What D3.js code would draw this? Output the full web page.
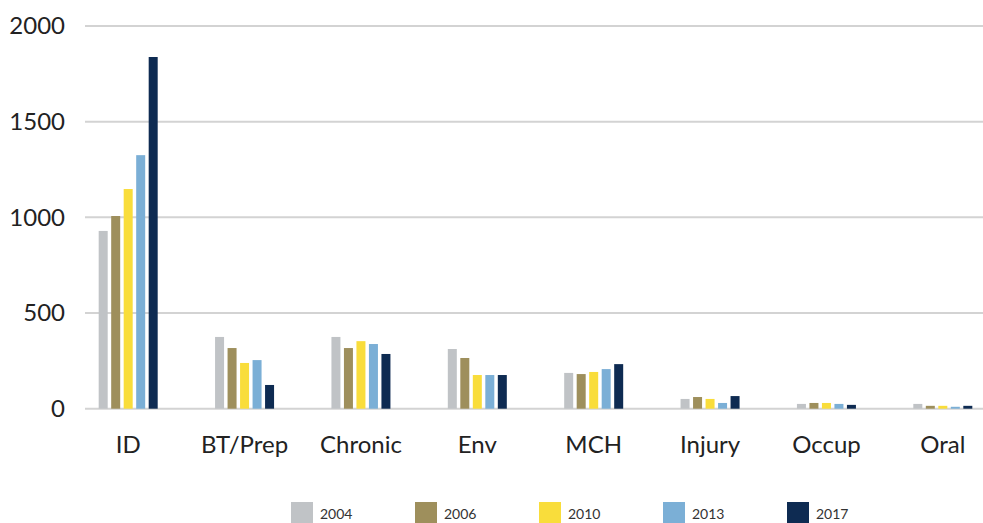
<!DOCTYPE html>
<html>
<head>
<meta charset="utf-8">
<script src="https://cdn.jsdelivr.net/npm/d3@7"></script>
<style>
  body { margin: 0; background: #fff; }
  svg { display: block; font-family: Lato, "Open Sans", sans-serif; }
</style>
</head>
<body>
<svg id="chart" width="983" height="523"></svg>
<script>
const categories = ["ID", "BT/Prep", "Chronic", "Env", "MCH", "Injury", "Occup", "Oral"];
const years = ["2004", "2006", "2010", "2013", "2017"];
const colors = ["#c0c3c6", "#9e8f5c", "#f9dd3b", "#7bafd6", "#0e2b52"];
const yTicks = [0, 500, 1000, 1500, 2000];

// one array per year, in category order
const v2004 = [929, 375, 375, 312, 187, 51, 25, 25];
const v2006 = [1007, 317, 317, 265, 181, 61, 30, 15];
const v2010 = [1148, 239, 353, 176, 192, 51, 30, 15];
const v2013 = [1325, 254, 338, 176, 207, 30, 25, 10];
const v2017 = [1838, 124, 286, 176, 233, 66, 20, 15];
const series = [v2004, v2006, v2010, v2013, v2017];

const svg = d3.select("#chart");

const x = d3.scaleBand().domain(categories).range([70, 1001]).paddingInner(0);
const x1 = d3.scaleBand().domain(years).range([-29.5, 29.5]).paddingInner(0.28).paddingOuter(0);
const y = d3.scaleLinear().domain([0, 2000]).range([408.7, 26]);

// gridlines
svg.append("g")
  .selectAll("line")
  .data(yTicks)
  .join("line")
    .attr("x1", 85)
    .attr("x2", 983)
    .attr("y1", d => y(d))
    .attr("y2", d => y(d))
    .attr("stroke", "#d3d3d3")
    .attr("stroke-width", 2);

// y labels
svg.append("g")
  .selectAll("text")
  .data(yTicks)
  .join("text")
    .attr("x", 65)
    .attr("y", d => y(d))
    .attr("dy", "0.35em")
    .attr("text-anchor", "end")
    .attr("fill", "#222")
    .style("font-size", "24px")
    .text(d => d);

// bars
const rows = [];
series.forEach((vals, si) => {
  vals.forEach((v, ci) => rows.push({ cat: categories[ci], year: years[si], value: v, color: colors[si] }));
});

svg.append("g")
  .selectAll("rect")
  .data(rows)
  .join("rect")
    .attr("x", d => x(d.cat) + x.bandwidth() / 2 + x1(d.year))
    .attr("width", x1.bandwidth())
    .attr("y", d => y(d.value))
    .attr("height", d => y(0) - y(d.value))
    .attr("fill", d => d.color);

// category labels
svg.append("g")
  .selectAll("text")
  .data(categories)
  .join("text")
    .attr("x", d => x(d) + x.bandwidth() / 2)
    .attr("y", 453)
    .attr("text-anchor", "middle")
    .attr("fill", "#222")
    .style("font-size", "24px")
    .text(d => d);

// legend
const legend = svg.append("g")
  .selectAll("g")
  .data(years)
  .join("g")
    .attr("transform", (d, i) => `translate(${291 + i * 124},502)`);

legend.append("rect")
  .attr("width", 22)
  .attr("height", 22)
  .attr("fill", (d, i) => colors[i]);

legend.append("text")
  .attr("x", 29)
  .attr("y", 17)
  .attr("fill", "#333")
  .style("font-size", "14px")
  .text(d => d);
</script>
</body>
</html>
